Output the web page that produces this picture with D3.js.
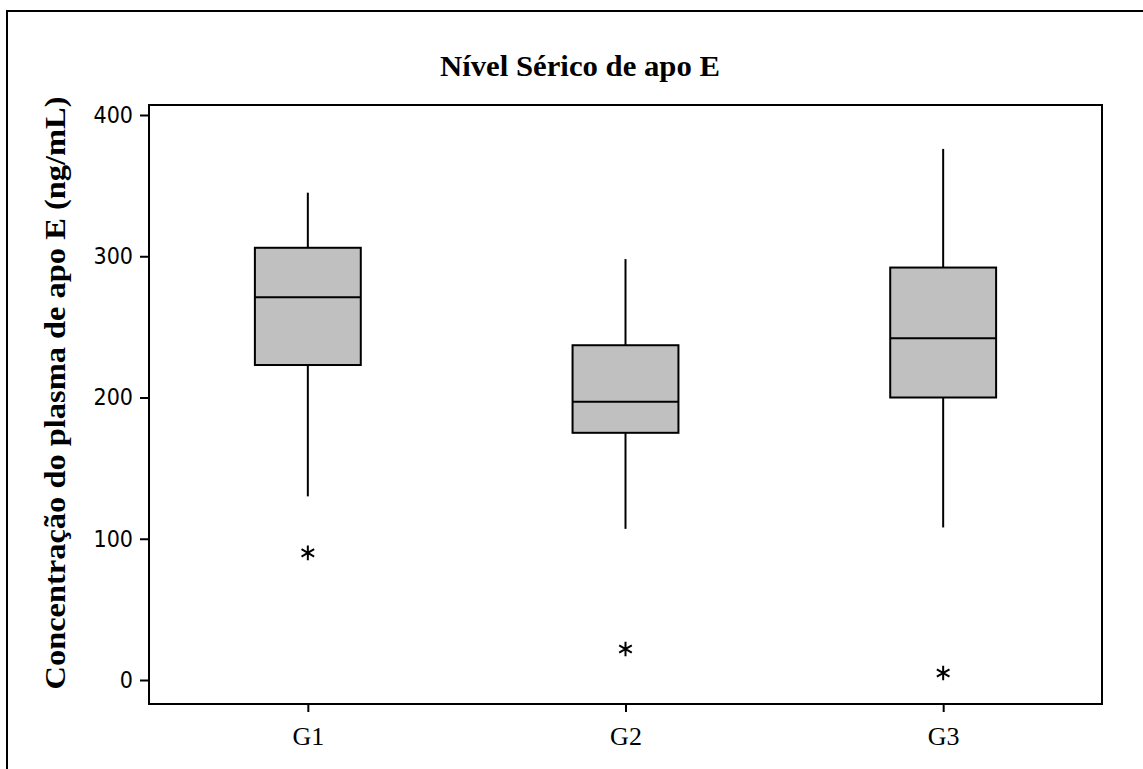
<!DOCTYPE html>
<html>
<head>
<meta charset="utf-8">
<script src="https://cdn.jsdelivr.net/npm/d3@7"></script>
<style>
  html, body { margin: 0; padding: 0; background: #fff; }
  svg { display: block; }
</style>
</head>
<body>
<svg id="chart" width="1143" height="769"></svg>
<script>
// ---- data ----
const groups = ["G1", "G2", "G3"];
const q1 = [223, 175, 200];
const median = [271, 197, 242];
const q3 = [306, 237, 292];
const whiskerLow = [130, 107, 108];
const whiskerHigh = [345, 298, 376];
const outliers = [[90], [22], [5]];
const yTicks = [0, 100, 200, 300, 400];
const title = "Nível Sérico de apo E";
const yLabel = "Concentração do plasma de apo E (ng/mL)";

// ---- layout ----
const svg = d3.select("#chart");
const W = 1143, H = 769;
const plot = { left: 149, top: 105, right: 1102, bottom: 704 };

svg.append("rect").attr("x", 0).attr("y", 0).attr("width", W).attr("height", H).attr("fill", "#fff");
// outer frame
svg.append("rect").attr("x", 7).attr("y", 11).attr("width", W).attr("height", H)
  .attr("fill", "none").attr("stroke", "#000").attr("stroke-width", 2);

const x = d3.scalePoint().domain(groups).range([plot.left, plot.right]).padding(0.5);
const y = d3.scaleLinear().domain([0, 400]).range([680, 115]);
const step = x.step();
const boxW = step / 3;

// plot frame
svg.append("rect").attr("x", plot.left).attr("y", plot.top)
  .attr("width", plot.right - plot.left).attr("height", plot.bottom - plot.top)
  .attr("fill", "none").attr("stroke", "#000").attr("stroke-width", 2);

const tickFont = "'DejaVu Sans Condensed', 'DejaVu Sans', sans-serif";
const serif = "'Liberation Serif', 'Times New Roman', serif";

// y axis
const yAxis = svg.append("g").attr("transform", `translate(${plot.left},0)`)
  .call(d3.axisLeft(y).tickValues(yTicks).tickSize(9).tickPadding(7));
yAxis.select(".domain").remove();
yAxis.selectAll("line").attr("stroke", "#000").attr("stroke-width", 2);
yAxis.selectAll("text").attr("font-family", tickFont).attr("font-size", 23)
  .attr("font-stretch", "condensed").attr("fill", "#000");

// x axis
const xAxis = svg.append("g").attr("transform", `translate(0,${plot.bottom})`)
  .call(d3.axisBottom(x).tickSize(8).tickPadding(5));
xAxis.select(".domain").remove();
xAxis.selectAll("line").attr("stroke", "#000").attr("stroke-width", 2);
xAxis.selectAll("text").attr("font-family", serif)
  .attr("font-size", 26).attr("fill", "#000").attr("dy", "0").attr("y", 41);

// boxes
const g = svg.append("g");
groups.forEach((grp, i) => {
  const cx = x(grp);
  g.append("line").attr("x1", cx).attr("x2", cx).attr("y1", y(q3[i])).attr("y2", y(whiskerHigh[i]))
    .attr("stroke", "#000").attr("stroke-width", 2);
  g.append("line").attr("x1", cx).attr("x2", cx).attr("y1", y(q1[i])).attr("y2", y(whiskerLow[i]))
    .attr("stroke", "#000").attr("stroke-width", 2);
  g.append("rect").attr("x", cx - boxW / 2).attr("y", y(q3[i]))
    .attr("width", boxW).attr("height", y(q1[i]) - y(q3[i]))
    .attr("fill", "#C0C0C0").attr("stroke", "#000").attr("stroke-width", 2);
  g.append("line").attr("x1", cx - boxW / 2).attr("x2", cx + boxW / 2)
    .attr("y1", y(median[i])).attr("y2", y(median[i]))
    .attr("stroke", "#000").attr("stroke-width", 2);
  outliers[i].forEach(v => {
    g.append("path").attr("d", d3.symbol().type(d3.symbolAsterisk).size(150)())
      .attr("transform", `translate(${cx},${y(v)})`)
      .attr("fill", "none").attr("stroke", "#000").attr("stroke-width", 2);
  });
});

// title
svg.append("text").attr("x", 580).attr("y", 76).attr("text-anchor", "middle")
  .attr("font-family", serif)
  .attr("font-weight", "bold").attr("font-size", 29)
  .attr("textLength", 280).attr("lengthAdjust", "spacingAndGlyphs")
  .text(title);

// y label
svg.append("text").attr("transform", `translate(65,393) rotate(-90)`).attr("text-anchor", "middle")
  .attr("font-family", serif)
  .attr("font-weight", "bold").attr("font-size", 30)
  .attr("textLength", 593).attr("lengthAdjust", "spacingAndGlyphs")
  .text(yLabel);
</script>
</body>
</html>
